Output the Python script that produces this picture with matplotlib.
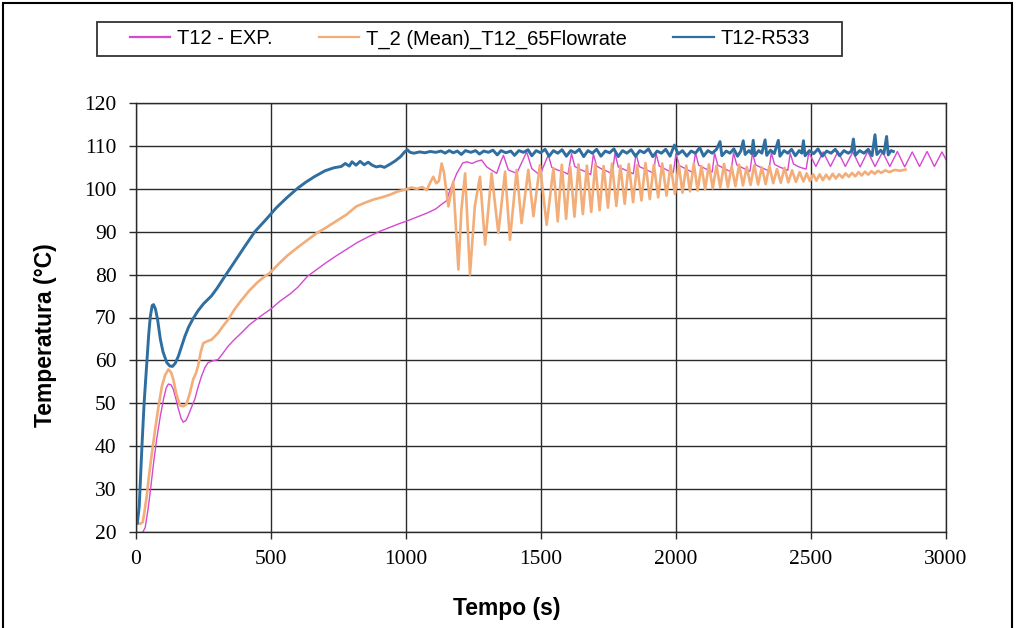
#recreates the T12 temperature comparison chart (EXP. vs mean flowrate vs R533)

import matplotlib
matplotlib.use("Agg")
import matplotlib.pyplot as plt
from matplotlib import font_manager
from matplotlib.patches import Rectangle

#data (time in s, temperature in degC)
exp_t = [25, 34, 45, 53, 65, 77, 90, 102, 112, 120, 130, 138, 148, 157, 167, 175, 185, 194, 205, 218,
         230, 243, 255, 267, 285, 304, 320, 341, 365, 390, 420, 451, 475, 500, 535, 573, 600, 635, 670, 700,
         740, 780, 820, 860, 900, 940, 980, 1000, 1040, 1080, 1110, 1130, 1150,
         1163, 1188, 1210, 1225, 1245, 1262, 1280, 1299, 1318, 1336, 1352, 1361, 1379, 1395, 1410, 1435,
         1447, 1466, 1480, 1496, 1520, 1527, 1540, 1560, 1585, 1600, 1613, 1625, 1645, 1668, 1684, 1694,
         1706, 1725, 1748, 1764, 1774, 1786, 1805, 1828, 1842, 1852, 1864, 1884, 1905, 1917, 1926, 1938,
         1957, 1978, 1990, 2000, 2012, 2032, 2050, 2062, 2072, 2084, 2102, 2122, 2134, 2143, 2155, 2174,
         2192, 2204, 2213, 2225, 2243, 2262, 2274, 2283, 2295, 2313, 2332, 2344, 2353, 2365, 2383, 2402,
         2414, 2423, 2435, 2452, 2470, 2482, 2492, 2518, 2545, 2572, 2600, 2627, 2655, 2682, 2710, 2737,
         2765, 2792, 2820, 2847, 2875, 2902, 2930, 2957, 2985, 3000]
exp_T = [20.0, 21.0, 25.5, 29.5, 36.0, 41.8, 47.0, 51.0, 53.6, 54.5, 54.3, 53.3, 51.0, 48.7, 46.5, 45.6, 46.0, 47.2, 49.0, 51.0,
         53.8, 56.4, 58.3, 59.5, 59.9, 60.2, 61.5, 63.3, 64.9, 66.4, 68.3, 69.8, 70.9, 72.0, 73.9, 75.6, 77.1, 79.6, 81.2, 82.6,
         84.3, 85.9, 87.5, 88.8, 90.0, 91.0, 92.0, 92.4, 93.4, 94.4, 95.3, 96.3, 97.2,
         99.7, 103.6, 106.0, 106.3, 105.9, 106.4, 106.7, 105.1, 104.3, 103.6, 106.5, 107.8, 104.4, 104.0, 103.6, 107.0,
         108.6, 104.7, 104.0, 103.2, 106.8, 107.9, 105.0, 104.4, 103.9, 103.4, 108.2, 105.2, 104.5, 103.9, 103.3, 108.1,
         105.3, 104.6, 104.0, 103.4, 108.3, 105.1, 104.6, 103.9, 103.5, 108.2, 105.2, 104.6, 104.0, 103.6, 108.3, 105.3,
         104.7, 104.0, 103.8, 108.2, 105.4, 104.8, 104.2, 103.8, 108.4, 105.5, 104.9, 104.3, 103.9, 108.3, 105.5, 104.9,
         104.3, 104.0, 108.4, 105.6, 105.0, 104.4, 104.1, 108.3, 105.6, 105.0, 104.5, 104.2, 108.4, 105.7, 105.1, 104.6,
         104.3, 108.3, 105.8, 105.2, 104.8, 104.6, 108.5, 105.2, 108.6, 105.2, 108.7, 105.2, 108.6, 105.1, 108.7, 105.2,
         108.6, 105.2, 108.7, 105.1, 108.6, 105.2, 108.7, 105.2, 108.6, 106.8]

mean_t = [5, 15, 25, 32, 40, 47, 58, 71, 84, 96, 108, 120, 130, 138, 150, 163, 175, 187, 200, 212,
          222, 230, 240, 249, 265, 279, 292, 304, 320, 341, 365, 390, 420, 450, 475, 496, 530, 560, 600, 640,
          670, 700, 740, 780, 816, 850, 880, 910, 940, 970, 998,
          1020, 1040, 1060, 1077, 1090, 1101, 1112, 1122, 1132, 1140, 1157, 1175, 1194, 1205, 1219, 1237, 1255, 1274,
          1293, 1317, 1342, 1367, 1385, 1410, 1428, 1453, 1472, 1496, 1521, 1546,
          1562, 1577, 1593, 1608, 1624, 1639, 1655, 1670, 1686, 1701, 1717, 1732, 1748, 1763, 1779, 1794, 1810, 1825,
          1841, 1856, 1872, 1887, 1903, 1918, 1934, 1949, 1965, 1980, 1996,
          2010, 2024, 2038, 2052, 2066, 2080, 2094, 2108, 2122, 2136, 2150, 2164, 2178, 2192, 2206, 2220, 2234, 2248,
          2262, 2276, 2290, 2304, 2318, 2332, 2346, 2360, 2374, 2388, 2402, 2416, 2430, 2444, 2458, 2472,
          2484, 2496, 2508, 2520, 2532, 2544, 2556, 2568, 2580, 2592, 2604, 2616, 2628, 2640, 2652, 2664, 2676, 2688,
          2700, 2712, 2724, 2736, 2748, 2760, 2775, 2790, 2810, 2830, 2850]
mean_T = [22.0, 21.9, 22.3, 25.0, 28.5, 32.5, 38.0, 44.0, 49.5, 54.0, 56.6, 57.9, 57.2, 55.6, 52.0, 49.5, 49.3, 49.8, 52.5, 55.6,
          57.0, 58.7, 62.0, 64.0, 64.5, 64.8, 65.6, 66.4, 67.8, 69.5, 71.9, 74.0, 76.3, 78.2, 79.5, 80.4, 82.6, 84.4, 86.4, 88.3,
          89.7, 90.8, 92.4, 94.0, 95.9, 96.8, 97.5, 98.0, 98.6, 99.4, 99.8,
          100.3, 100.0, 100.4, 99.7, 101.5, 102.8, 101.3, 101.8, 105.9, 104.0, 95.9, 101.7, 81.2, 95.0, 103.6, 80.0, 96.0, 102.8,
          87.0, 103.6, 89.7, 104.0, 88.1, 104.4, 92.0, 104.4, 93.6, 105.5, 91.6, 104.8,
          92.4, 105.6, 93.0, 105.2, 93.5, 105.7, 94.1, 105.4, 94.6, 105.8, 95.0, 105.3, 95.6, 105.9, 96.0, 105.4, 96.5, 105.8,
          96.9, 105.5, 97.3, 106.0, 97.6, 105.6, 98.0, 105.9, 98.4, 105.5, 98.8,
          105.8, 99.1, 105.4, 99.4, 105.9, 99.6, 105.3, 99.9, 105.7, 100.1, 105.4, 100.3, 105.8, 100.4, 105.2, 100.6, 105.6, 100.8,
          105.1, 100.9, 105.5, 101.0, 105.0, 101.1, 105.3, 101.3, 104.6, 101.4, 104.9, 101.5, 104.3, 101.6, 103.9, 101.7,
          103.6, 101.8, 103.4, 101.9, 103.4, 102.0, 103.3, 102.2, 103.5, 102.4, 103.4, 102.6, 103.6, 102.8, 103.7, 102.9, 103.9, 103.1,
          104.0, 103.3, 104.1, 103.5, 104.2, 103.7, 104.3, 103.9, 104.4, 104.2, 104.5]

r533_t = [0, 5, 12, 22, 30, 40, 47, 53, 60, 65, 72, 80, 90, 100, 114, 125, 135, 145, 157, 170,
          181, 195, 212, 230, 250, 279, 300, 328, 360, 400, 440, 481, 520, 560, 600, 628, 660, 700, 733, 760,
          775, 790, 800, 815, 830, 845, 860, 875, 890, 905, 920, 940, 960, 980, 995, 1005,
          1015, 1030, 1050, 1070, 1090, 1110, 1130, 1145, 1160, 1175, 1190, 1205, 1220, 1240, 1258, 1272, 1288, 1305,
          1322, 1338, 1352, 1370, 1388, 1402, 1418, 1435, 1452, 1466, 1482, 1498, 1515, 1530, 1546, 1562, 1578, 1594,
          1610, 1626, 1642, 1658, 1674, 1690, 1706, 1722, 1738, 1754, 1770, 1786, 1802, 1818, 1834, 1850, 1866, 1882,
          1898, 1914, 1930, 1946, 1962, 1978, 1994, 2008, 2024, 2040, 2056, 2072, 2088, 2102, 2118, 2134, 2150, 2163,
          2170, 2186, 2200, 2214, 2228, 2240, 2249, 2256, 2270, 2280, 2286, 2292, 2306, 2318, 2330, 2336, 2350, 2364,
          2379, 2385, 2400, 2414, 2428, 2442, 2456, 2466, 2472, 2478, 2494, 2510, 2526, 2542, 2558, 2574, 2590, 2606,
          2622, 2638, 2650, 2657, 2664, 2680, 2696, 2712, 2726, 2737, 2744, 2758, 2770, 2780, 2786, 2796, 2805]
r533_T = [22.5, 22.0, 26.0, 40.0, 50.0, 59.5, 66.0, 70.2, 72.8, 73.0, 72.0, 69.5, 65.0, 62.0, 59.5, 58.7, 58.6, 59.3, 61.0, 63.5,
          65.6, 67.8, 69.8, 71.6, 73.2, 75.0, 76.8, 79.5, 82.5, 86.3, 90.0, 92.8, 95.6, 98.0, 100.2, 101.5, 102.8, 104.2, 104.9, 105.2,
          105.9, 105.3, 106.3, 105.5, 106.4, 105.6, 106.2, 105.5, 105.1, 105.3, 105.0, 105.7, 106.5, 107.5, 108.6, 109.1,
          108.5, 108.3, 108.6, 108.4, 108.7, 108.5, 108.8, 108.3, 108.9, 108.4, 108.8, 108.0, 108.9, 108.5, 108.9, 108.1, 108.8, 108.5,
          109.0, 107.9, 108.9, 108.4, 108.8, 107.8, 108.9, 108.5, 109.1, 107.7, 108.9, 108.4, 109.2, 107.6, 108.9, 108.3, 109.1, 107.6,
          108.9, 108.4, 109.2, 107.5, 108.9, 108.3, 109.2, 107.6, 108.8, 108.4, 109.3, 107.5, 108.9, 108.3, 109.1, 107.6, 108.9, 108.4,
          109.3, 107.5, 108.8, 108.3, 109.2, 107.6, 110.2, 108.1, 108.9, 107.6, 108.8, 108.3, 109.6, 107.6, 108.9, 108.3, 109.2, 111.0,
          107.7, 108.8, 108.3, 109.3, 107.6, 108.8, 111.2, 108.0, 108.9, 108.2, 111.3, 107.7, 108.9, 108.3, 111.4, 107.8, 109.0, 108.2,
          111.3, 107.6, 108.9, 108.3, 109.2, 107.7, 108.9, 108.3, 111.2, 107.7, 108.9, 108.2, 109.3, 107.6, 108.8, 108.3, 109.2, 107.7,
          108.9, 108.3, 108.8, 111.6, 107.8, 108.9, 108.3, 109.2, 107.7, 112.6, 108.0, 109.0, 108.2, 112.2, 107.9, 108.9, 108.7]

labels = ["T12 - EXP.", "T_2 (Mean)_T12_65Flowrate", "T12-R533"]
x_ticks = [0, 500, 1000, 1500, 2000, 2500, 3000]
y_ticks = [20, 30, 40, 50, 60, 70, 80, 90, 100, 110, 120]

# pick the narrow font for the legend if it is there
try:
    font_manager.findfont(font_manager.FontProperties(family="Liberation Sans Narrow"), fallback_to_default=False)
    leg_family, leg_size = "Liberation Sans Narrow", 16.5
except Exception:
    leg_family, leg_size = "Liberation Sans", 14.5

fig = plt.figure(figsize=(10.19, 6.28), dpi=100)
ax = fig.add_axes([136/1019, 1-532/628, 810/1019, 429/628])

ax.plot(exp_t, exp_T, color="#D548CF", lw=1.0, label=labels[0])
ax.plot(mean_t, mean_T, color="#F2AD78", lw=1.9, label=labels[1])
ax.plot(r533_t, r533_T, color="#2F6EA0", lw=2.1, label=labels[2])

ax.set_xlim(0, 3000)
ax.set_ylim(20, 120)
ax.set_xticks(x_ticks)
ax.set_yticks(y_ticks)
ax.grid(True, color="#2a2a2a", lw=1.0)
ax.set_axisbelow(True)
for s in ax.spines.values():
    s.set_color("#2a2a2a")
    s.set_linewidth(1.0)
ax.tick_params(direction="out", length=5, width=1, color="#2a2a2a")
ax.tick_params(axis="y", pad=9)
ax.tick_params(axis="x", pad=8)
for lab in ax.get_xticklabels() + ax.get_yticklabels():
    lab.set_family("Liberation Serif")
    lab.set_fontsize(15.5)

fig.text(507/1019, 1-608/628, "Tempo (s)", ha="center", va="center",
         family="Liberation Sans", fontweight="bold", fontsize=16.5)
fig.text(46/1019, 1-335/628, "Temperatura (°C)", ha="center", va="center", rotation=90,
         family="Liberation Sans", fontweight="bold", fontsize=16.5)

# legend entries spread over the top box, frame drawn separately
leg = fig.legend(loc="center left", bbox_to_anchor=(130/1019, 1-39/628, 680/1019, 0),
                 mode="expand", ncol=3, frameon=False, borderaxespad=0, borderpad=0,
                 handlelength=2.0, handletextpad=0.35,
                 prop={"family": leg_family, "size": leg_size})
for h in leg.get_lines():
    h.set_linewidth(1.6)
fig.patches.append(Rectangle((97/1019, 1-56/628), 745/1019, 34/628, transform=fig.transFigure,
                             fill=False, edgecolor="#333333", lw=1.3))

# outer border of the chart area
fig.patches.append(Rectangle((3/1019, -0.01), 1009/1019, 1-3/628+0.01, transform=fig.transFigure,
                             fill=False, edgecolor="black", lw=1.5))

fig.savefig("out.png", dpi=100)
